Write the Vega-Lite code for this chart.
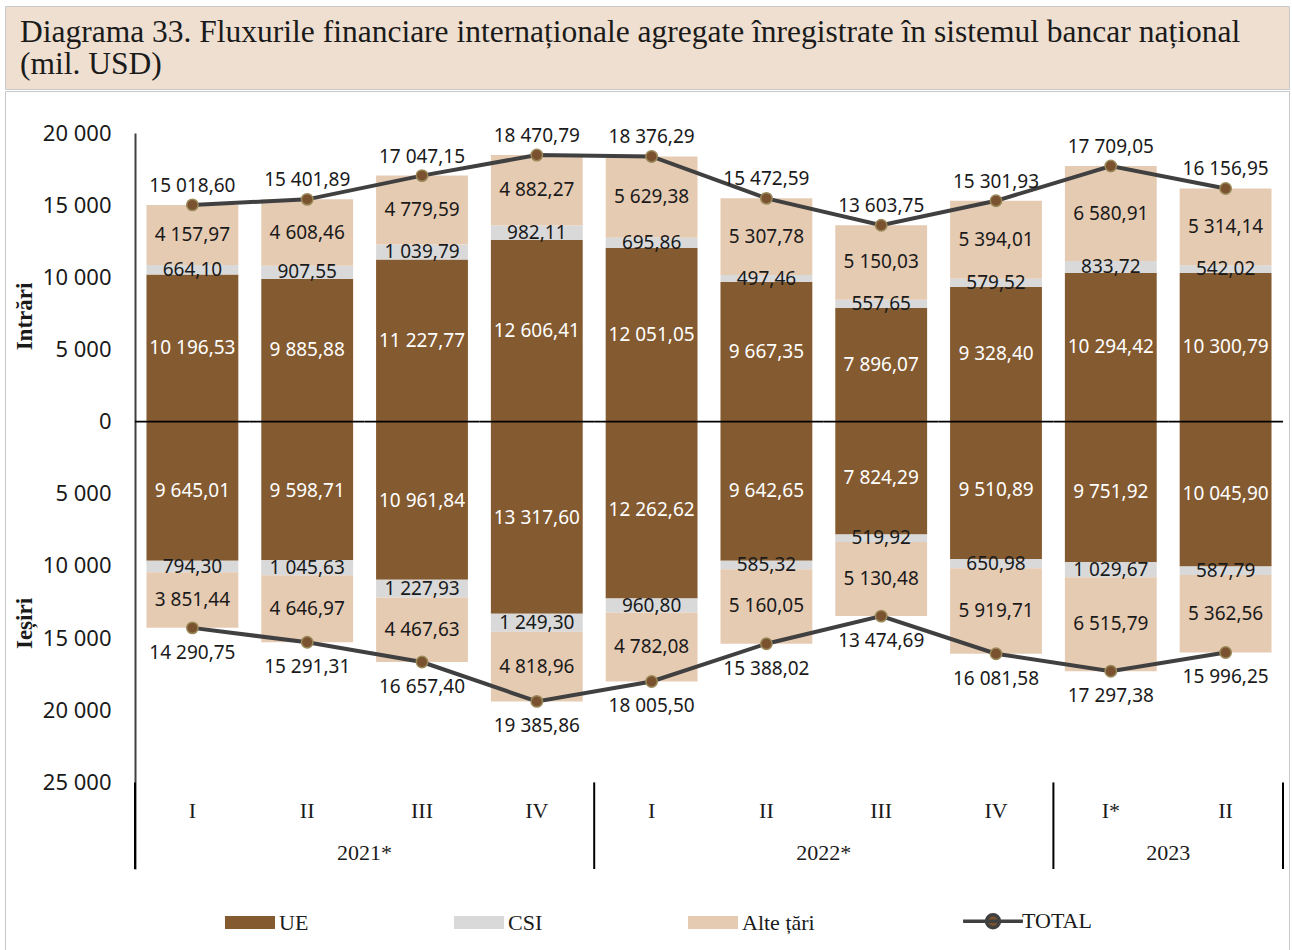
{
  "$schema": "https://vega.github.io/schema/vega-lite/v6.json",
  "padding": {"left": 4, "top": 5, "right": 0, "bottom": 0},
  "background": "white",
  "spacing": 0,
  "config": {
    "locale": {"number": {"decimal": ",", "thousands": " ", "grouping": [3], "currency": ["", ""], "minus": ""}},
    "view": {"stroke": null},
    "font": "Noto Sans"
  },
  "datasets": {
    "bars": [
      {"q": "2021-I", "flow": "in", "cat": "UE", "value": 10196.53},
      {"q": "2021-I", "flow": "in", "cat": "CSI", "value": 664.10},
      {"q": "2021-I", "flow": "in", "cat": "Alte țări", "value": 4157.97},
      {"q": "2021-II", "flow": "in", "cat": "UE", "value": 9885.88},
      {"q": "2021-II", "flow": "in", "cat": "CSI", "value": 907.55},
      {"q": "2021-II", "flow": "in", "cat": "Alte țări", "value": 4608.46},
      {"q": "2021-III", "flow": "in", "cat": "UE", "value": 11227.77},
      {"q": "2021-III", "flow": "in", "cat": "CSI", "value": 1039.79},
      {"q": "2021-III", "flow": "in", "cat": "Alte țări", "value": 4779.59},
      {"q": "2021-IV", "flow": "in", "cat": "UE", "value": 12606.41},
      {"q": "2021-IV", "flow": "in", "cat": "CSI", "value": 982.11},
      {"q": "2021-IV", "flow": "in", "cat": "Alte țări", "value": 4882.27},
      {"q": "2022-I", "flow": "in", "cat": "UE", "value": 12051.05},
      {"q": "2022-I", "flow": "in", "cat": "CSI", "value": 695.86},
      {"q": "2022-I", "flow": "in", "cat": "Alte țări", "value": 5629.38},
      {"q": "2022-II", "flow": "in", "cat": "UE", "value": 9667.35},
      {"q": "2022-II", "flow": "in", "cat": "CSI", "value": 497.46},
      {"q": "2022-II", "flow": "in", "cat": "Alte țări", "value": 5307.78},
      {"q": "2022-III", "flow": "in", "cat": "UE", "value": 7896.07},
      {"q": "2022-III", "flow": "in", "cat": "CSI", "value": 557.65},
      {"q": "2022-III", "flow": "in", "cat": "Alte țări", "value": 5150.03},
      {"q": "2022-IV", "flow": "in", "cat": "UE", "value": 9328.40},
      {"q": "2022-IV", "flow": "in", "cat": "CSI", "value": 579.52},
      {"q": "2022-IV", "flow": "in", "cat": "Alte țări", "value": 5394.01},
      {"q": "2023-I", "flow": "in", "cat": "UE", "value": 10294.42},
      {"q": "2023-I", "flow": "in", "cat": "CSI", "value": 833.72},
      {"q": "2023-I", "flow": "in", "cat": "Alte țări", "value": 6580.91},
      {"q": "2023-II", "flow": "in", "cat": "UE", "value": 10300.79},
      {"q": "2023-II", "flow": "in", "cat": "CSI", "value": 542.02},
      {"q": "2023-II", "flow": "in", "cat": "Alte țări", "value": 5314.14},
      {"q": "2021-I", "flow": "out", "cat": "UE", "value": -9645.01},
      {"q": "2021-I", "flow": "out", "cat": "CSI", "value": -794.30},
      {"q": "2021-I", "flow": "out", "cat": "Alte țări", "value": -3851.44},
      {"q": "2021-II", "flow": "out", "cat": "UE", "value": -9598.71},
      {"q": "2021-II", "flow": "out", "cat": "CSI", "value": -1045.63},
      {"q": "2021-II", "flow": "out", "cat": "Alte țări", "value": -4646.97},
      {"q": "2021-III", "flow": "out", "cat": "UE", "value": -10961.84},
      {"q": "2021-III", "flow": "out", "cat": "CSI", "value": -1227.93},
      {"q": "2021-III", "flow": "out", "cat": "Alte țări", "value": -4467.63},
      {"q": "2021-IV", "flow": "out", "cat": "UE", "value": -13317.60},
      {"q": "2021-IV", "flow": "out", "cat": "CSI", "value": -1249.30},
      {"q": "2021-IV", "flow": "out", "cat": "Alte țări", "value": -4818.96},
      {"q": "2022-I", "flow": "out", "cat": "UE", "value": -12262.62},
      {"q": "2022-I", "flow": "out", "cat": "CSI", "value": -960.80},
      {"q": "2022-I", "flow": "out", "cat": "Alte țări", "value": -4782.08},
      {"q": "2022-II", "flow": "out", "cat": "UE", "value": -9642.65},
      {"q": "2022-II", "flow": "out", "cat": "CSI", "value": -585.32},
      {"q": "2022-II", "flow": "out", "cat": "Alte țări", "value": -5160.05},
      {"q": "2022-III", "flow": "out", "cat": "UE", "value": -7824.29},
      {"q": "2022-III", "flow": "out", "cat": "CSI", "value": -519.92},
      {"q": "2022-III", "flow": "out", "cat": "Alte țări", "value": -5130.48},
      {"q": "2022-IV", "flow": "out", "cat": "UE", "value": -9510.89},
      {"q": "2022-IV", "flow": "out", "cat": "CSI", "value": -650.98},
      {"q": "2022-IV", "flow": "out", "cat": "Alte țări", "value": -5919.71},
      {"q": "2023-I", "flow": "out", "cat": "UE", "value": -9751.92},
      {"q": "2023-I", "flow": "out", "cat": "CSI", "value": -1029.67},
      {"q": "2023-I", "flow": "out", "cat": "Alte țări", "value": -6515.79},
      {"q": "2023-II", "flow": "out", "cat": "UE", "value": -10045.90},
      {"q": "2023-II", "flow": "out", "cat": "CSI", "value": -587.79},
      {"q": "2023-II", "flow": "out", "cat": "Alte țări", "value": -5362.56}
    ],
    "totals": [
      {"q": "2021-I", "flow": "in", "value": 15018.60},
      {"q": "2021-II", "flow": "in", "value": 15401.89},
      {"q": "2021-III", "flow": "in", "value": 17047.15},
      {"q": "2021-IV", "flow": "in", "value": 18470.79},
      {"q": "2022-I", "flow": "in", "value": 18376.29},
      {"q": "2022-II", "flow": "in", "value": 15472.59},
      {"q": "2022-III", "flow": "in", "value": 13603.75},
      {"q": "2022-IV", "flow": "in", "value": 15301.93},
      {"q": "2023-I", "flow": "in", "value": 17709.05},
      {"q": "2023-II", "flow": "in", "value": 16156.95},
      {"q": "2021-I", "flow": "out", "value": -14290.75},
      {"q": "2021-II", "flow": "out", "value": -15291.31},
      {"q": "2021-III", "flow": "out", "value": -16657.40},
      {"q": "2021-IV", "flow": "out", "value": -19385.86},
      {"q": "2022-I", "flow": "out", "value": -18005.50},
      {"q": "2022-II", "flow": "out", "value": -15388.02},
      {"q": "2022-III", "flow": "out", "value": -13474.69},
      {"q": "2022-IV", "flow": "out", "value": -16081.58},
      {"q": "2023-I", "flow": "out", "value": -17297.38},
      {"q": "2023-II", "flow": "out", "value": -15996.25}
    ],
    "quarters": [
      {"q": "2021-I", "qt": "I"},
      {"q": "2021-II", "qt": "II"},
      {"q": "2021-III", "qt": "III"},
      {"q": "2021-IV", "qt": "IV"},
      {"q": "2022-I", "qt": "I"},
      {"q": "2022-II", "qt": "II"},
      {"q": "2022-III", "qt": "III"},
      {"q": "2022-IV", "qt": "IV"},
      {"q": "2023-I", "qt": "I*"},
      {"q": "2023-II", "qt": "II"}
    ],
    "years": [
      {"q": "2021-II", "yr": "2021*"},
      {"q": "2022-II", "yr": "2022*"},
      {"q": "2023-I", "yr": "2023"}
    ]
  },
  "vconcat": [
    {
      "width": 1284,
      "height": 83,
      "view": {"fill": "#EEDFD0", "stroke": "#C8C8C8", "strokeWidth": 1},
      "title": {
        "text": ["Diagrama 33. Fluxurile financiare internaționale agregate înregistrate în sistemul bancar național", "(mil. USD)"],
        "anchor": "start",
        "frame": "group",
        "orient": "bottom",
        "baseline": "top",
        "offset": -72,
        "dx": 15,
        "font": "Liberation Serif",
        "fontSize": 31.5,
        "fontWeight": "normal",
        "lineHeight": 32,
        "color": "#1a1a1a"
      },
      "data": {"values": []},
      "mark": "text",
      "encoding": {"text": {"value": ""}}
    },
    {
      "width": 1284,
      "height": 860,
      "view": {"stroke": "#C8C8C8", "strokeWidth": 1},
      "resolve": {"axis": {"y": "independent"}},
      "layer": [
        {
          "data": {"name": "bars"},
          "mark": {"type": "bar", "width": {"band": 0.8}},
          "encoding": {
            "x": {"field": "q", "type": "nominal", "axis": null,
                  "scale": {"domain": ["2021-I","2021-II","2021-III","2021-IV","2022-I","2022-II","2022-III","2022-IV","2023-I","2023-II"], "range": [130, 1278], "paddingInner": 0, "paddingOuter": 0}},
            "y": {"field": "value", "type": "quantitative", "stack": "zero",
                  "scale": {"domain": [-31000, 20000], "range": [778, 42], "nice": false, "zero": false},
                  "axis": {
                    "orient": "left", "offset": -130,
                    "values": [-25000, -20000, -15000, -10000, -5000, 0, 5000, 10000, 15000, 20000],
                    "format": ",.0f",
                    "ticks": false, "grid": false,
                    "domainColor": "#404040", "domainWidth": 2,
                    "labelFont": "Noto Sans", "labelFontSize": 22, "labelColor": "#1a1a1a",
                    "labelPadding": 24, "labelOverlap": false,
                    "title": "Intrări",
                    "titleFont": "Liberation Serif", "titleFontSize": 23, "titleFontWeight": "bold", "titleColor": "#1a1a1a",
                    "titleX": -99, "titleY": 225, "titleAngle": -90
                  }},
            "order": {"field": "cat", "type": "nominal", "sort": "descending"},
            "color": {"field": "cat", "type": "nominal",
                      "scale": {"domain": ["UE", "CSI", "Alte țări", "TOTAL"], "range": ["#845A30", "#D9D9D9", "#E6CBB3", "#7A5230"]},
                      "legend": {
                        "title": null,
                        "orient": "none", "legendX": 216, "legendY": 904,
                        "direction": "horizontal", "columns": 4, "columnPadding": 141,
                        "symbolSize": 169, "symbolOffset": 18, "symbolStrokeWidth": 0,
                        "labelOffset": 18,
                        "labelFont": "Liberation Serif", "labelFontSize": 22, "labelColor": "#1a1a1a",
                        "encode": {"symbols": {"update": {
                          "shape": {"signal": "datum.label === 'TOTAL' ? 'M-4.6,0H4.6M-1,0A1,1 0 1 0 1,0A1,1 0 1 0 -1,0' : 'M-3.85,-1H3.85V1H-3.85Z'"},
                          "stroke": {"signal": "datum.label === 'TOTAL' ? '#404040' : 'transparent'"},
                          "strokeWidth": {"signal": "datum.label === 'TOTAL' ? 3.5 : 0"},
                          "opacity": {"value": 1}
                        }}}
                      }}
          }
        },
        {
          "data": {"name": "quarters"},
          "mark": {"type": "rect", "color": "#000000"},
          "encoding": {
            "x": {"field": "q", "type": "nominal", "axis": null},
            "y": {"datum": 55, "type": "quantitative", "axis": null},
            "y2": {"datum": -55}
          }
        },
        {
          "data": {"name": "bars"},
          "mark": {"type": "text", "font": "Noto Sans", "fontSize": 19},
          "encoding": {
            "x": {"field": "q", "type": "nominal", "axis": null},
            "y": {"field": "value", "type": "quantitative", "stack": "zero", "bandPosition": 0.5, "axis": null},
            "order": {"field": "cat", "type": "nominal", "sort": "descending"},
            "detail": {"field": "cat"},
            "text": {"field": "value", "type": "quantitative", "format": ",.2f"},
            "color": {"condition": {"test": "datum.cat === 'UE'", "value": "#ffffff"}, "value": "#1a1a1a"}
          }
        },
        {
          "data": {"name": "totals"},
          "mark": {"type": "line", "color": "#404040", "strokeWidth": 4},
          "encoding": {
            "x": {"field": "q", "type": "nominal", "axis": null},
            "y": {"field": "value", "type": "quantitative",
                  "axis": {"orient": "left", "offset": -130, "labels": false, "ticks": false, "domain": false, "grid": false,
                           "title": "Ieșiri",
                           "titleFont": "Liberation Serif", "titleFontSize": 23, "titleFontWeight": "bold", "titleColor": "#1a1a1a",
                           "titleX": -99, "titleY": 532, "titleAngle": -90}},
            "detail": {"field": "flow"}
          }
        },
        {
          "data": {"name": "totals"},
          "mark": {"type": "point", "filled": true, "size": 130, "fill": "#7A5230", "stroke": "#9A8A5A", "strokeWidth": 1.5, "opacity": 1},
          "encoding": {
            "x": {"field": "q", "type": "nominal", "axis": null},
            "y": {"field": "value", "type": "quantitative", "axis": null}
          }
        },
        {
          "data": {"name": "totals"},
          "transform": [{"filter": "datum.flow === 'in'"}],
          "mark": {"type": "text", "font": "Noto Sans", "fontSize": 19, "dy": -19, "color": "#1a1a1a"},
          "encoding": {
            "x": {"field": "q", "type": "nominal", "axis": null},
            "y": {"field": "value", "type": "quantitative", "axis": null},
            "text": {"field": "value", "type": "quantitative", "format": ",.2f"}
          }
        },
        {
          "data": {"name": "totals"},
          "transform": [{"filter": "datum.flow === 'out'"}],
          "mark": {"type": "text", "font": "Noto Sans", "fontSize": 19, "dy": 25, "color": "#1a1a1a"},
          "encoding": {
            "x": {"field": "q", "type": "nominal", "axis": null},
            "y": {"field": "value", "type": "quantitative", "axis": null},
            "text": {"field": "value", "type": "quantitative", "format": ",.2f"}
          }
        },
        {
          "data": {"name": "quarters"},
          "mark": {"type": "text", "font": "Liberation Serif", "fontSize": 22, "color": "#1a1a1a"},
          "encoding": {
            "x": {"field": "q", "type": "nominal", "axis": null},
            "y": {"datum": -27000, "type": "quantitative", "axis": null},
            "text": {"field": "qt"}
          }
        },
        {
          "data": {"name": "years"},
          "mark": {"type": "text", "font": "Liberation Serif", "fontSize": 22, "color": "#1a1a1a"},
          "encoding": {
            "x": {"field": "q", "type": "nominal", "bandPosition": 1, "axis": null},
            "y": {"datum": -29900, "type": "quantitative", "axis": null},
            "text": {"field": "yr"}
          }
        },
        {
          "data": {"values": [{"q": "2021-I"}, {"q": "2022-I"}, {"q": "2023-I"}]},
          "mark": {"type": "rule", "color": "#000000", "strokeWidth": 2},
          "encoding": {
            "x": {"field": "q", "type": "nominal", "bandPosition": 0, "axis": null},
            "y": {"datum": -25000, "type": "quantitative", "axis": null},
            "y2": {"datum": -31000}
          }
        },
        {
          "data": {"values": [{"q": "2023-II"}]},
          "mark": {"type": "rule", "color": "#000000", "strokeWidth": 2},
          "encoding": {
            "x": {"field": "q", "type": "nominal", "bandPosition": 1, "axis": null},
            "y": {"datum": -25000, "type": "quantitative", "axis": null},
            "y2": {"datum": -31000}
          }
        }
      ]
    }
  ]
}
